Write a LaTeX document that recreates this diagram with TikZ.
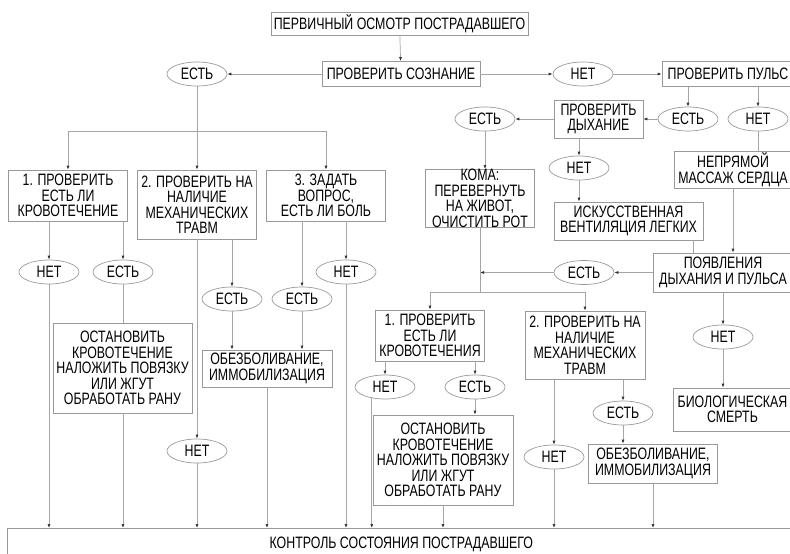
\documentclass[tikz,border=0pt]{standalone}
\usepackage{fontspec}
\setmainfont[FakeStretch=0.75]{Liberation Sans}
\usetikzlibrary{arrows.meta,shapes.geometric}
\tikzset{
	box/.style={draw=black!40, line width=0.7pt, inner sep=0pt, align=center, font=\fontsize{16.5}{15.5}\selectfont},
	oval/.style={ellipse, draw=black!40, line width=0.7pt, inner sep=0pt, minimum width=60pt, minimum height=24pt, font=\fontsize{16.5}{15.5}\selectfont},
	wire/.style={draw=black!35, line width=0.7pt},
	arr/.style={wire, -{Latex[length=4pt,width=3pt,color=black!80]}},
}

\begin{document}
\begin{tikzpicture}[x=1pt, y=-1pt]
		%%%%% START %%%%%
		\useasboundingbox (0, 0) rectangle (790, 554);
		
		% top
		\node[box, minimum width=257pt, minimum height=23pt] (osmotr) at (399.5, 23.5) {ПЕРВИЧНЫЙ ОСМОТР ПОСТРАДАВШЕГО};
		\node[box, minimum width=158pt, minimum height=25pt] (soznanie) at (401, 74) {ПРОВЕРИТЬ СОЗНАНИЕ};
		\node[oval] (estS) at (197, 74) {ЕСТЬ};
		\node[oval] (netS) at (583, 74) {НЕТ};
		\node[box, minimum width=132pt, minimum height=25pt] (puls) at (728, 74) {ПРОВЕРИТЬ ПУЛЬС};
		
		\draw[arr] (osmotr) -- (soznanie);
		\draw[arr] (soznanie.west) -- (estS.east);
		\draw[arr] (soznanie.east) -- (netS.west);
		\draw[arr] (netS.east) -- (puls.west);
		
		% left branch
		\coordinate (jL) at (197, 131);
		\node[box, minimum width=119pt, minimum height=51pt] (L1) at (68, 195.5) {1. ПРОВЕРИТЬ\\ЕСТЬ ЛИ\\КРОВОТЕЧЕНИЕ};
		\node[box, minimum width=119pt, minimum height=69pt] (L2) at (197, 204.5) {2. ПРОВЕРИТЬ НА\\НАЛИЧИЕ\\МЕХАНИЧЕСКИХ\\ТРАВМ};
		\node[box, minimum width=119pt, minimum height=51pt] (L3) at (326, 195.5) {3. ЗАДАТЬ\\ВОПРОС,\\ЕСТЬ ЛИ БОЛЬ};
		
		\draw[wire] (estS) -- (jL);
		\draw[wire] (L1.north |- jL) -- (L3.north |- jL);
		\draw[arr] (L1.north |- jL) -- (L1.north);
		\draw[arr] (jL) -- (L2.north);
		\draw[arr] (L3.north |- jL) -- (L3.north);
		
		\node[oval] (netL1) at (49, 272) {НЕТ};
		\node[oval] (estL1) at (123, 272) {ЕСТЬ};
		\node[oval] (netL3) at (346, 272) {НЕТ};
		\node[oval] (estL2) at (232, 299) {ЕСТЬ};
		\node[oval] (estL3) at (302, 299) {ЕСТЬ};
		\node[oval] (netL2) at (197, 451) {НЕТ};
		\node[box, minimum width=139pt, minimum height=90pt] (ostanL) at (122.5, 368) {ОСТАНОВИТЬ\\КРОВОТЕЧЕНИЕ\\НАЛОЖИТЬ ПОВЯЗКУ\\ИЛИ ЖГУТ\\ОБРАБОТАТЬ РАНУ};
		\node[box, minimum width=130pt, minimum height=37pt] (obezL) at (267, 368.5) {ОБЕЗБОЛИВАНИЕ,\\ИММОБИЛИЗАЦИЯ};
		
		\draw[arr] (netL1 |- L1.south) -- (netL1);
		\draw[arr] (estL1 |- L1.south) -- (estL1);
		\draw[wire] (estL1) -- (estL1 |- ostanL.north);
		\draw[arr] (L2.south) -- (netL2);
		\draw[arr] (estL2 |- L2.south) -- (estL2);
		\draw[arr] (estL3 |- L3.south) -- (estL3);
		\draw[arr] (netL3 |- L3.south) -- (netL3);
		\draw[arr] (estL2) -- (estL2 |- obezL.north);
		\draw[arr] (estL3) -- (estL3 |- obezL.north);
		
		% right branch
		\node[oval] (estP) at (688, 119) {ЕСТЬ};
		\node[oval] (netP) at (758, 119) {НЕТ};
		\node[box, minimum width=89pt, minimum height=38pt] (dyhanie) at (598.5, 119) {ПРОВЕРИТЬ\\ДЫХАНИЕ};
		\node[oval] (estD) at (485, 119) {ЕСТЬ};
		\node[oval] (netD) at (579, 168) {НЕТ};
		\node[box, minimum width=109pt, minimum height=57pt] (koma) at (480, 198.5) {КОМА:\\ПЕРЕВЕРНУТЬ\\НА ЖИВОТ,\\ОЧИСТИТЬ РОТ};
		\node[box, minimum width=149pt, minimum height=38pt] (iskusstv) at (628.5, 221) {ИСКУССТВЕННАЯ\\ВЕНТИЛЯЦИЯ ЛЕГКИХ};
		\node[box, minimum width=118pt, minimum height=37pt] (massazh) at (733, 169.5) {НЕПРЯМОЙ\\МАССАЖ СЕРДЦА};
		\node[box, minimum width=139pt, minimum height=39pt] (poyavl) at (723, 272.5) {ПОЯВЛЕНИЯ\\ДЫХАНИЯ И ПУЛЬСА};
		\node[oval] (estA) at (584, 272.5) {ЕСТЬ};
		\node[oval] (netA) at (723, 337) {НЕТ};
		\node[box, minimum width=119pt, minimum height=43pt] (bio) at (732.5, 409.5) {БИОЛОГИЧЕСКАЯ\\СМЕРТЬ};
		
		\draw[arr] (estP |- puls.south) -- (estP);
		\draw[arr] (netP |- puls.south) -- (netP);
		\draw[arr] (estP.west) -- (dyhanie.east);
		\draw[arr] (dyhanie.west) -- (estD.east);
		\draw[arr] (estD) -- (estD |- koma.north);
		\draw[arr] (netD |- dyhanie.south) -- (netD);
		\draw[arr] (netD) -- (netD |- iskusstv.north);
		\draw[wire] (netP) -- (netP |- massazh.north);
		\draw[arr] (massazh) -- (massazh |- poyavl.north);
		\draw[wire] ([xshift=-10pt]iskusstv.south east) -- ([xshift=-10pt]iskusstv.south east |- poyavl.north);
		\draw[arr] (poyavl.west) -- (estA.east);
		\draw[arr] (poyavl.south) -- (netA);
		\draw[arr] (netA) -- (netA |- bio.north);
		
		\coordinate (jR) at (480, 292);
		\node[box, minimum width=109pt, minimum height=51pt] (R1) at (430, 335.5) {1. ПРОВЕРИТЬ\\ЕСТЬ ЛИ\\КРОВОТЕЧЕНИЯ};
		\node[box, minimum width=120pt, minimum height=68pt] (R2) at (585, 345) {2. ПРОВЕРИТЬ НА\\НАЛИЧИЕ\\МЕХАНИЧЕСКИХ\\ТРАВМ};
		
		\draw[arr] (estA.west) -- (koma.south |- estA.west);
		\draw[wire] (koma.south) -- (jR);
		\draw[wire] (R1.north |- jR) -- (R2.north |- jR);
		\draw[arr] (R1.north |- jR) -- (R1.north);
		\draw[arr] (R2.north |- jR) -- (R2.north);
		
		\node[oval] (netR1) at (385, 387) {НЕТ};
		\node[oval] (estR1) at (475, 387) {ЕСТЬ};
		\node[oval] (estR2) at (623, 413) {ЕСТЬ};
		\node[oval] (netR2) at (554, 457) {НЕТ};
		\node[box, minimum width=140pt, minimum height=90pt] (ostanR) at (443, 460) {ОСТАНОВИТЬ\\КРОВОТЕЧЕНИЕ\\НАЛОЖИТЬ ПОВЯЗКУ\\ИЛИ ЖГУТ\\ОБРАБОТАТЬ РАНУ};
		\node[box, minimum width=129pt, minimum height=39pt] (obezR) at (653, 463.5) {ОБЕЗБОЛИВАНИЕ,\\ИММОБИЛИЗАЦИЯ};
		
		\draw[arr] (netR1 |- R1.south) -- (netR1);
		\draw[arr] (estR1 |- R1.south) -- (estR1);
		\draw[arr] (estR1) -- (estR1 |- ostanR.north);
		\draw[arr] (netR2 |- R2.south) -- (netR2);
		\draw[arr] (estR2 |- R2.south) -- (estR2);
		\draw[arr] (estR2) -- (estR2 |- obezR.north);
		
		% bottom
		\node[box, anchor=north west, minimum width=788pt, minimum height=32pt] (kontrol) at (7, 528) {КОНТРОЛЬ СОСТОЯНИЯ ПОСТРАДАВШЕГО};
		
		\draw[arr] (netL1) -- (netL1 |- kontrol.north);
		\draw[arr] (estL1 |- ostanL.south) -- (estL1 |- kontrol.north);
		\draw[arr] (netL2) -- (netL2 |- kontrol.north);
		\draw[arr] (obezL.south) -- (obezL.south |- kontrol.north);
		\draw[arr] (netL3) -- (netL3 |- kontrol.north);
		\draw[arr] (netR1.220) -- (netR1.220 |- kontrol.north);
		\draw[arr] (ostanR.south) -- (ostanR.south |- kontrol.north);
		\draw[arr] (netR2) -- (netR2 |- kontrol.north);
		\draw[arr] (obezR.south) -- (obezR.south |- kontrol.north);
		%%%%% END %%%%%
\end{tikzpicture}
\end{document}
